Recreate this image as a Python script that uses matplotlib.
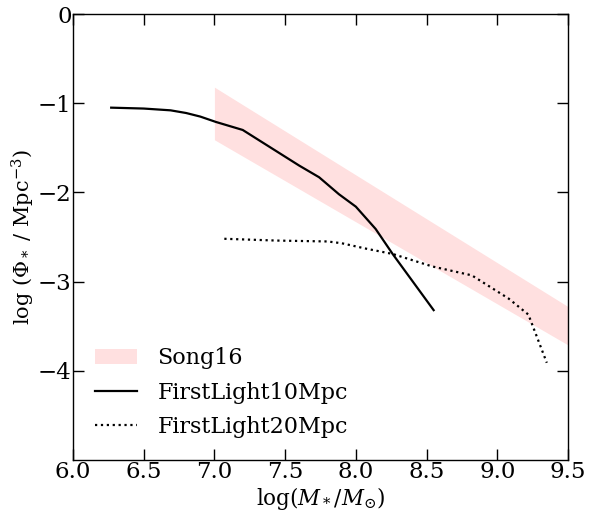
import numpy as np
import matplotlib
matplotlib.use('Agg')
import matplotlib.pyplot as plt

# Song16 band (lower / upper edge)
song_x = [7.0, 9.5]
song_lo = [-1.41, -3.71]
song_hi = [-0.82, -3.28]

# FirstLight 10 Mpc box
fl10_x = [6.27, 6.50, 6.69, 6.80, 6.90, 7.01, 7.20, 7.40, 7.60, 7.74, 7.88, 8.00, 8.14, 8.26, 8.55]
fl10_y = [-1.05, -1.06, -1.08, -1.11, -1.15, -1.21, -1.30, -1.50, -1.70, -1.83, -2.02, -2.16, -2.41, -2.69, -3.32]

# FirstLight 20 Mpc box
fl20_x = [7.07, 7.44, 7.80, 7.90, 8.07, 8.26, 8.54, 8.82, 9.08, 9.22, 9.35]
fl20_y = [-2.52, -2.54, -2.55, -2.57, -2.63, -2.69, -2.83, -2.93, -3.19, -3.37, -3.91]

plt.rcParams['font.family'] = 'DejaVu Serif'
plt.rcParams['mathtext.fontset'] = 'dejavuserif'
plt.rcParams['font.size'] = 16

fig = plt.figure(figsize=(5.96, 5.11), dpi=100)
ax = fig.add_axes([73 / 596, 1 - 460 / 511, (568 - 73) / 596, (460 - 14) / 511])

ax.fill_between(song_x, song_lo, song_hi, color='#ffe0e0', linewidth=0, label='Song16')
ax.plot(fl10_x, fl10_y, color='black', lw=1.6, label='FirstLight10Mpc')
ax.plot(fl20_x, fl20_y, color='black', lw=1.6, linestyle=':', label='FirstLight20Mpc')

ax.set_xlim(6.0, 9.5)
ax.set_ylim(-5, 0)
ax.set_xticks(np.arange(6.0, 9.51, 0.5))
ax.set_yticks([-4, -3, -2, -1, 0])
ax.set_yticklabels(['\u22124', '\u22123', '\u22122', '\u22121', '0'])
ax.tick_params(direction='in', length=8, width=1, top=True, right=True, labelsize=16.5, pad=1)
for s in ax.spines.values():
    s.set_linewidth(1)

ax.set_xlabel(r'log$(M_*/M_{\odot})$', fontsize=15.5, labelpad=1)
ax.set_ylabel(r'log ($\Phi_*$ / Mpc$^{-3}$)', fontsize=15)
ax.yaxis.set_label_coords(-0.072, 0.5)

ax.legend(loc='lower left', frameon=False, fontsize=16, handlelength=1.9,
          handletextpad=0.9, borderaxespad=0.6, labelspacing=0.55)

fig.savefig('out.png', dpi=100)
